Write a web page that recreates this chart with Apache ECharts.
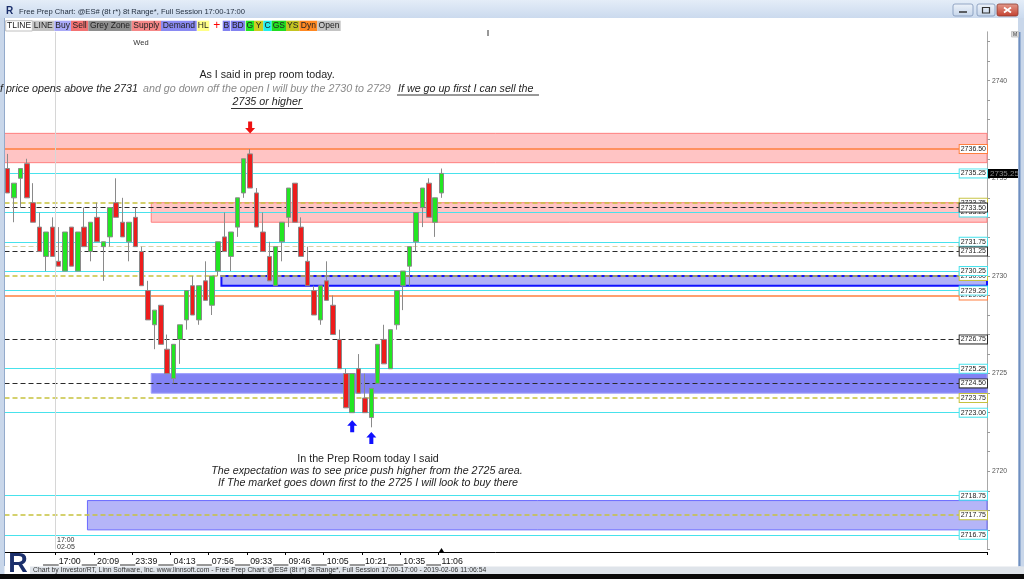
<!DOCTYPE html>
<html><head><meta charset="utf-8">
<script src="https://cdn.jsdelivr.net/npm/echarts@6/dist/echarts.min.js"></script>
<style>html,body{margin:0;padding:0;background:#fff;overflow:hidden}#c{width:1024px;height:579px}</style>
</head><body><div id="c"></div><script>
// ---------- data ----------
const timeLabels = ['17:00','20:09','23:39','04:13','07:56','09:33','09:46','10:05','10:21','10:35','11:06'];
const labelIndex = [8,14,20,26,32,38,44,50,56,62,68];
const opens  = [2735.5,2734,2735,2735.75,2733.75,2732.5,2731,2732.5,2730.75,2730.25,2732.5,2730.25,2732.5,2731.25,2733,2731.5,2732,2733.75,2732.75,2731.75,2733,2731.25,2729.25,2727.5,2728.5,2726.25,2724.75,2726.75,2727.75,2729.5,2727.75,2729.75,2728.5,2730.25,2732,2731,2732.5,2734.25,2736.25,2734.25,2732.25,2731,2729.5,2731.75,2733,2734.75,2732.5,2730.75,2729.25,2727.75,2729.75,2728.5,2726.75,2725,2723,2725.25,2723.75,2722.75,2724.5,2726.75,2725.25,2727.5,2729.5,2730.5,2731.75,2733.5,2734.75,2732.75,2734.25];
const highs  = [2736.25,2734.75,2735.5,2736,2734.75,2733.25,2732.25,2733,2732.5,2732.25,2732.5,2732.25,2733.5,2732.75,2733.75,2731.75,2733.5,2735,2734,2732.75,2733.5,2731.5,2729.75,2728.25,2728.5,2727,2726.5,2727.5,2729.25,2730,2729.5,2730.75,2730,2731.75,2733.25,2732.25,2734,2736,2736.5,2734.5,2733.25,2731.75,2731.5,2732.75,2734.5,2734.75,2733,2731.5,2729.5,2729.5,2730.75,2729,2727.25,2725.25,2725,2726,2725,2724.25,2726.5,2727.5,2727.25,2729.25,2730.25,2731.5,2733.25,2734.5,2735,2734,2735.5];
const lows   = [2734.25,2732.75,2733.5,2734,2732.75,2731.25,2730.25,2731,2730.5,2730.25,2730.5,2730.25,2731.5,2730.75,2731.75,2729.75,2731.5,2733,2732,2730.75,2731.5,2729.5,2727.75,2726.25,2726.5,2725,2724.5,2725.5,2727.25,2728,2727.5,2728.75,2728,2730,2731.25,2730.25,2732,2734,2734.5,2732.5,2731.25,2729.75,2729.5,2730.75,2732.5,2732.75,2731,2729.5,2728,2727.5,2728.75,2727,2725.25,2723.25,2723,2724,2723,2722.25,2724.5,2725.5,2725.25,2727.25,2728.25,2729.5,2731.25,2732.5,2733,2732,2734];
const closes = [2734.25,2734.75,2735.5,2734,2732.75,2731.25,2732.25,2731,2730.5,2732.25,2730.5,2732.25,2731.5,2732.75,2731.75,2731.75,2733.5,2733,2732,2732.75,2731.5,2729.5,2727.75,2728.25,2726.5,2725,2726.5,2727.5,2729.25,2728,2729.5,2728.75,2730,2731.75,2731.25,2732.25,2734,2736,2734.5,2732.5,2731.25,2729.75,2731.5,2732.75,2734.5,2732.75,2731,2729.5,2728,2729.5,2728.75,2727,2725.25,2723.25,2725,2724,2723,2724.25,2726.5,2725.5,2727.25,2729.25,2730.25,2731.5,2733.25,2734.5,2733,2734,2735.25];
const TOTAL_SLOTS = 154;

const levelPrices = [2736.5,2735.25,2733.75,2733.25,2733.5,2731.5,2731.75,2731.25,2730.0,2730.25,2729.0,2729.25,2726.75,2725.25,2724.5,2723.75,2723.0,2718.75,2717.75,2716.75];
const levelType   = ['orange','cyan','olive','cyan','black','tan','cyan','black','olive','cyan','orange','cyan','black','cyan','black','olive','cyan','cyan','olive','cyan'];

const zoneTop    = [2737.3,2733.75,2730.0,2725.0,2718.5];
const zoneBottom = [2735.8,2732.75,2729.5,2724.0,2717.0];
const zoneStart  = [-0.5,22.5,33.5,22.5,12.5];
const zoneType   = ['supply','supply','demand1','demand2','demand3'];

const arrowIndex = [38,54,57];
const arrowPrice = [2737.6,2722.3,2721.7];
const arrowDir   = ['down','up','up'];

const sessionBreak = 7.5;
const yMin = 2716, yMax = 2742.5, yStep = 1, yLabelStep = 5;

// ---------- styles ----------
const FONT = 'Liberation Sans, Arial, sans-serif';
const LS = {
  orange:{color:'#ff7f3f', width:1.5, type:'solid'},
  cyan:{color:'#48e2ec', width:1.2, type:'solid'},
  olive:{color:'#c6c23e', width:1.5, type:[5,3]},
  tan:{color:'#d8d3a6', width:1.2, type:[5,3]},
  black:{color:'#2a2a2a', width:1.1, type:[5,3]}
};
const ZS = {
  supply:{color:'#ffc4c4', borderColor:'#ff8080', borderWidth:1},
  demand1:{color:'#b2b2f6', borderColor:'#1212ff', borderWidth:2},
  demand2:{color:'#8282f4', borderColor:'#a0a0ff', borderWidth:1},
  demand3:{color:'#b5b5f8', borderColor:'#6a6aff', borderWidth:1}
};
const UP = 'path://M5,0 L10,5.5 L7,5.5 L7,12 L3,12 L3,5.5 L0,5.5 Z';
const DOWN = 'path://M3,0 L7,0 L7,6.5 L10,6.5 L5,12 L0,6.5 L3,6.5 Z';

const categories = Array.from({length: TOTAL_SLOTS}, (_, i) => String(i));
const candleData = opens.map((o, i) => [o, closes[i], lows[i], highs[i]]);
const showLabel = (idx) => labelIndex.indexOf(idx) >= 0;

const levelLines = levelPrices.map((p, k) => {
  const s = LS[levelType[k]];
  return {
    yAxis: p,
    lineStyle: {color: s.color, width: s.width, type: s.type},
    label: {show: true, position: 'insideEnd', distance: 0, formatter: p.toFixed(2),
      fontSize: 7, fontFamily: FONT, color: '#222', backgroundColor: '#fff',
      borderColor: s.color === '#d8d3a6' ? '#b8b080' : s.color, borderWidth: 1, padding: [1, 1, 0, 1], lineHeight: 7}
  };
});
const lastClose = closes[closes.length - 1];
levelLines.push({
  yAxis: lastClose,
  lineStyle: {color: LS.cyan.color, width: 1.2, type: 'solid'},
  label: {show: true, position: 'end', distance: 1, formatter: lastClose.toFixed(2),
    fontSize: 8, fontFamily: FONT, color: '#8a8a8a', backgroundColor: '#000', padding: [1, 2, 0, 2], lineHeight: 8}
});
levelLines.push({xAxis: sessionBreak, lineStyle: {color: '#d6d6d6', width: 1, type: 'solid'}, label: {show: false}});

const zones = zoneTop.map((t, k) => [
  {xAxis: zoneStart[k], yAxis: t, itemStyle: ZS[zoneType[k]]},
  {xAxis: TOTAL_SLOTS - 0.5, yAxis: zoneBottom[k]}
]);

const arrows = arrowIndex.map((idx, k) => ({
  coord: [idx, arrowPrice[k]],
  symbol: arrowDir[k] === 'down' ? DOWN : UP,
  symbolSize: [10, 12],
  itemStyle: {color: arrowDir[k] === 'down' ? '#ee1111' : '#1010ff'},
  label: {show: false}
}));
arrows.push({coord: [closes.length - 1, yMin], symbol: 'triangle', symbolSize: [5, 4], symbolOffset: [0, 0.6], itemStyle: {color: '#000'}, label: {show: false}});

// ---------- page chrome (graphic) ----------
function T(x, y, text, o) {
  const st = Object.assign({text, fill: '#1e1e1e', fontSize: 10.7, fontFamily: FONT,
    textAlign: 'left', textVerticalAlign: 'middle', align: 'left', verticalAlign: 'middle'}, o || {});
  if (o && o.textAlign) st.align = o.textAlign;
  return {type: 'text', x, y, z: 100, silent: true, style: st};
}
function L(x1, y1, x2, y2, stroke, w, z) {
  return {type: 'line', z: z == null ? 100 : z, silent: true, shape: {x1, y1, x2, y2}, style: {stroke, lineWidth: w || 1}};
}
function R(x, y, w, h, fill, stroke, z) {
  return {type: 'rect', z: z == null ? 50 : z, silent: true, shape: {x, y, width: w, height: h}, style: {fill, stroke: stroke || null, lineWidth: stroke ? 0.8 : 0}};
}
const toolbar = [
  ['TLINE',5.7,32.3,'#ffffff'],['LINE',32.3,54.3,'#c4c4c4'],['Buy',54.3,71,'#a9a9f7'],['Sell',71,88.3,'#f27272'],
  ['Grey Zone',88.3,131.7,'#8e8e8e'],['Supply',131.7,161,'#f58787'],['Demand',161,196.7,'#8a8af2'],['HL',197.3,209.3,'#ffff88'],
  ['+',211.7,221.7,'#ffffff'],['B',222.7,230,'#8282f0'],['BD',230.7,245,'#8282f0'],['G',245.7,254,'#22e622'],
  ['Y',254,263.3,'#cccc22'],['C',263.3,271.7,'#22eeee'],['GS',271.7,286,'#22dd22'],['YS',286,299.3,'#c4c422'],
  ['Dyn',299.3,317.3,'#ff8822'],['Open',317.3,340.7,'#c4c4c4']
];
const G = [];
G.push({type: 'rect', z: 40, silent: true, shape: {x: 0, y: 0, width: 1024, height: 18},
  style: {fill: new echarts.graphic.LinearGradient(0, 0, 0, 1, [{offset: 0, color: '#e4edf8'}, {offset: 1, color: '#cbdaee'}])}});
G.push(R(0, 18, 4.5, 558, '#c9d7ea', null, 40));
G.push(L(4.5, 18, 4.5, 566, '#93aacb', 1, 41));
G.push(R(1018, 18, 6, 558, '#c9d7ea', null, 40));
G.push(L(1019.5, 32, 1019.5, 566, '#6f8fc0', 2, 41));
G.push(R(30, 566.5, 994, 7.5, '#dfe4ea', null, 40));
G.push(R(0, 574, 1024, 5, '#0a0a0a', null, 41));
G.push(T(19, 12, 'Free Prep Chart: @ES# (8t r*) 8t Range*, Full Session 17:00-17:00', {fontSize: 7.6, fill: '#1e2a3a'}));
G.push(T(9.5, 11, 'R', {fontSize: 10, fontWeight: 'bold', fill: '#1b2f6b', textAlign: 'center'}));
// window buttons
[[953,973],[977,995]].forEach(b => {
  G.push({type: 'rect', z: 50, silent: true, shape: {x: b[0], y: 4, width: b[1]-b[0], height: 12, r: 2},
    style: {fill: new echarts.graphic.LinearGradient(0, 0, 0, 1, [{offset: 0, color: '#eef3fa'}, {offset: 1, color: '#c5d5ea'}]), stroke: '#7d94b8', lineWidth: 0.8}});
});
G.push(L(959, 12, 967, 12, '#333', 1.5));
G.push({type: 'rect', z: 100, silent: true, shape: {x: 982.5, y: 7.5, width: 7, height: 5.5}, style: {fill: null, stroke: '#333', lineWidth: 1.2}});
G.push({type: 'rect', z: 50, silent: true, shape: {x: 997, y: 4, width: 21, height: 12, r: 2},
  style: {fill: new echarts.graphic.LinearGradient(0, 0, 0, 1, [{offset: 0, color: '#e39a8c'}, {offset: 1, color: '#c4402f'}]), stroke: '#8c3a30', lineWidth: 0.8}});
G.push(L(1004, 7.5, 1011, 12.5, '#fff', 1.8));
G.push(L(1011, 7.5, 1004, 12.5, '#fff', 1.8));
// toolbar
toolbar.forEach(b => {
  G.push(R(b[1], 20.7, b[2]-b[1], 10.3, b[3], b[0] === 'TLINE' ? '#b0b0b0' : null, 50));
  G.push(T((b[1]+b[2])/2, 26, b[0], {fontSize: b[0] === '+' ? 12 : 8.5, textAlign: 'center', fill: b[0] === '+' ? '#ff0000' : '#222'}));
});
G.push(T(141, 42.5, 'Wed', {fontSize: 7.5, textAlign: 'center', fill: '#333'}));
G.push(L(488, 30, 488, 36, '#333', 1));
G.push(R(1011.5, 31.5, 7, 5.5, '#dcdcdc', '#bbb', 50));
G.push(T(1015, 34.3, 'M', {fontSize: 5, textAlign: 'center', fill: '#333'}));
// annotations
G.push(T(267, 75.5, 'As I said in prep room today.', {textAlign: 'center'}));
G.push(T(-3, 89, 'If price opens above the 2731', {fontStyle: 'italic'}));
G.push(T(143, 89, 'and go down off the open I will buy the 2730 to 2729', {fontStyle: 'italic', fill: '#8a8a8a'}));
G.push(T(398, 89, 'If we go up first I can sell the', {fontStyle: 'italic'}));
G.push(L(397, 95, 539, 95, '#333', 1));
G.push(T(267, 102.5, '2735 or higher', {fontStyle: 'italic', textAlign: 'center'}));
G.push(L(231, 108.5, 303, 108.5, '#333', 1));
G.push(T(368, 459, 'In the Prep Room today I said', {textAlign: 'center'}));
G.push(T(367, 471.5, 'The expectation was to see price push higher from the 2725 area.', {fontStyle: 'italic', textAlign: 'center'}));
G.push(T(368, 483.5, 'If The market goes down first to the 2725 I will look to buy there', {fontStyle: 'italic', textAlign: 'center'}));
// bottom
G.push(T(57, 540.5, '17:00', {fontSize: 7, fill: '#333'}));
G.push(T(57, 547.5, '02-05', {fontSize: 7, fill: '#333'}));
G.push(L(43, 565, 441, 565, '#333', 1, 1));
G.push(T(18, 565, 'R', {fontSize: 27, fontWeight: 'bold', fill: '#1b2f6b', textAlign: 'center'}));
G.push(T(33, 570.3, 'Chart by Investor/RT, Linn Software, Inc. www.linnsoft.com - Free Prep Chart: @ES# (8t r*) 8t Range*, Full Session 17:00-17:00 - 2019-02-06 11:06:54', {fontSize: 6.8, fill: '#333'}));

// ---------- chart ----------
const chart = echarts.init(document.getElementById('c'), null, {renderer: 'canvas', width: 1024, height: 579});
chart.setOption({
  animation: false,
  backgroundColor: '#ffffff',
  textStyle: {fontFamily: FONT},
  grid: {left: 4.5, right: 37, top: 31.8, bottom: 29.6, containLabel: false},
  xAxis: [
    {type: 'category', data: categories, boundaryGap: true, offset: 2.6, z: 10,
      axisLine: {show: true, onZero: false, lineStyle: {color: '#000', width: 1}},
      axisTick: {show: true, interval: showLabel, length: 3, lineStyle: {color: '#000'}},
      axisLabel: {show: true, interval: showLabel, align: 'left', margin: 4, fontSize: 8.8, color: '#111',
        backgroundColor: '#fff', padding: [1, 1, 1, 0],
        formatter: (v, idx) => { const k = labelIndex.indexOf(idx); return k >= 0 ? timeLabels[k] : ''; }},
      splitLine: {show: false}},
    {type: 'value', min: -0.5, max: TOTAL_SLOTS - 0.5, show: false,
      axisLine: {onZero: false}}
  ],
  yAxis: {type: 'value', position: 'right', min: yMin, max: yMax, interval: yStep,
    axisLine: {show: true, onZero: false, lineStyle: {color: '#a8a8a8'}},
    axisTick: {show: true, length: 3, lineStyle: {color: '#9a9a9a'}},
    splitLine: {show: false},
    axisLabel: {fontSize: 6.8, color: '#555', margin: 5, showMaxLabel: false,
      formatter: v => (Math.abs(v % yLabelStep) < 1e-9 ? String(v) : '')}},
  series: [
    {type: 'line', name: 'zones', xAxisIndex: 1, data: [], z: 1, silent: true,
      markArea: {silent: true, data: zones}},
    {type: 'line', name: 'levels', xAxisIndex: 1, data: [], z: 2, silent: true,
      markLine: {silent: true, symbol: ['none', 'none'], animation: false, data: levelLines}},
    {type: 'candlestick', name: 'ES', xAxisIndex: 0, data: candleData, z: 5, barWidth: 5, silent: true,
      itemStyle: {color: '#22e622', color0: '#ee1c1c', borderColor: '#8a8a8a', borderColor0: '#8a8a8a', borderWidth: 1},
      markPoint: {silent: true, data: arrows}}
  ],
  graphic: {elements: G}
});
</script></body></html>
